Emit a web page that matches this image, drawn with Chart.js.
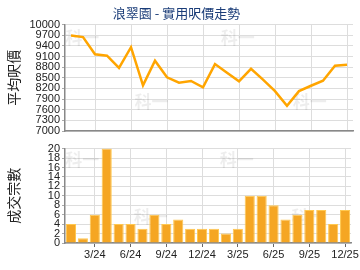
<!DOCTYPE html>
<html>
<head>
<meta charset="utf-8">
<script src="https://cdn.jsdelivr.net/npm/chart.js@4/dist/chart.umd.min.js"></script>
<style>
  body { margin: 0; background: #fff; }
  #wrap { position: relative; width: 360px; height: 270px; }
  canvas { position: absolute; left: 0; }
  #priceChart { top: 0; }
  #dealChart { top: 140px; }
</style>
</head>
<body>
<div id="wrap">
  <canvas id="priceChart" width="360" height="140"></canvas>
  <canvas id="dealChart" width="360" height="130"></canvas>
</div>
<script>
var months = ['1/24','2/24','3/24','4/24','5/24','6/24','7/24','8/24','9/24','10/24','11/24','12/24',
              '1/25','2/25','3/25','4/25','5/25','6/25','7/25','8/25','9/25','10/25','11/25','12/25'];
var avgPrice = [9695, 9648, 9162, 9124, 8781, 9362, 8286, 8981, 8514, 8362, 8410, 8229,
                8886, 8640, 8400, 8752, 8448, 8124, 7714, 8124, 8276, 8419, 8838, 8867];
var deals = [4, 1, 6, 20, 4, 4, 3, 6, 4, 5, 3, 3, 3, 2, 3, 10, 10, 8, 5, 6, 7, 7, 4, 7];
var priceTicks = [7000, 7300, 7600, 7900, 8200, 8500, 8800, 9100, 9400, 9700, 10000];
var dealTicks = [0, 2, 4, 6, 8, 10, 12, 14, 16, 18, 20];

var tickFont = { family: 'Liberation Sans', size: 11 };
var gridCol = '#dddddd';
var axisCol = '#888888';

function shown(i) { return i % 3 === 2; }

// faint "科一" marks behind the plot, like the source site's watermark
var watermark = {
  id: 'watermark',
  beforeDatasetsDraw: function(chart) {
    var a = chart.chartArea, ctx = chart.ctx;
    ctx.save();
    ctx.fillStyle = 'rgba(0,0,0,0.07)';
    ctx.font = 'bold 17px "Noto Sans CJK TC"';
    ctx.textBaseline = 'middle';
    ctx.textAlign = 'center';
    var w = a.right - a.left, h = a.bottom - a.top;
    [[0.06, 0.12], [0.6, 0.12], [0.3, 0.72], [0.85, 0.72]].forEach(function(p) {
      ctx.fillText('科一', a.left + p[0] * w, a.top + p[1] * h);
    });
    ctx.restore();
  }
};

function xScale(showLabels) {
  return {
    type: 'category',
    offset: true,
    grid: {
      offset: false,
      color: function(c) { return shown(c.index) ? gridCol : 'rgba(0,0,0,0)'; },
      tickLength: 4,
      drawTicks: showLabels,
      tickColor: function(c) { return shown(c.index) ? '#666' : 'rgba(0,0,0,0)'; }
    },
    border: { color: axisCol, width: 1.5 },
    ticks: {
      display: showLabels,
      autoSkip: false,
      maxRotation: 0,
      padding: 1,
      color: '#222',
      font: tickFont,
      callback: function(v, i) { return shown(i) ? months[i] : ''; }
    },
    afterFit: function(s) { s.height = showLabels ? 27 : 0; }
  };
}

function yScale(min, max, title, ticksArr) {
  return {
    min: min, max: max,
    afterBuildTicks: function(s) { s.ticks = ticksArr.map(function(v) { return { value: v }; }); },
    grid: { color: gridCol, tickLength: 3, tickColor: '#aaa' },
    border: { color: axisCol, width: 1.5 },
    ticks: {
      autoSkip: false, padding: 2, color: '#222', font: tickFont,
      callback: function(v) { return String(v); }
    },
    title: { display: true, text: title, color: '#222', font: { family: 'Noto Sans CJK TC', size: 14 }, padding: { top: 5, bottom: 0 } },
    afterFit: function(s) { s.width = 65; }
  };
}

new Chart(document.getElementById('priceChart').getContext('2d'), {
  type: 'line',
  data: {
    labels: months,
    datasets: [{
      data: avgPrice,
      borderColor: '#FFA500',
      borderWidth: 2.5,
      pointRadius: 0,
      tension: 0,
      fill: false
    }]
  },
  options: {
    responsive: false,
    animation: false,
    layout: { padding: { left: 0, right: 7, top: 0, bottom: 9 } },
    plugins: {
      legend: { display: false },
      tooltip: { enabled: false },
      title: {
        display: true,
        text: '浪翠園 - 實用呎價走勢',
        color: '#1a3c78',
        font: { family: 'Noto Sans CJK TC', size: 13, weight: 'normal' },
        padding: { top: 5, bottom: 4 }
      }
    },
    scales: {
      x: xScale(false),
      y: yScale(7000, 10000, '平均呎價', priceTicks)
    }
  },
  plugins: [watermark]
});

new Chart(document.getElementById('dealChart').getContext('2d'), {
  type: 'bar',
  data: {
    labels: months,
    datasets: [{
      data: deals,
      backgroundColor: function(c) {
        var bar = c.chart.getDatasetMeta(0).data[c.dataIndex];
        if (!bar || !bar.width) return '#F5A623';
        var ctx = c.chart.ctx;
        var g = ctx.createLinearGradient(bar.x - bar.width / 2, 0, bar.x + bar.width / 2, 0);
        g.addColorStop(0, '#F0A010');
        g.addColorStop(0.35, '#FFD066');
        g.addColorStop(0.6, '#F8B830');
        g.addColorStop(1, '#E89A00');
        return g;
      },
      borderColor: '#FFC850',
      borderWidth: 1,
      barPercentage: 0.85,
      categoryPercentage: 1
    }]
  },
  options: {
    responsive: false,
    animation: false,
    layout: { padding: { left: 0, right: 7, top: 7, bottom: 0 } },
    plugins: { legend: { display: false }, tooltip: { enabled: false } },
    scales: {
      x: xScale(true),
      y: yScale(0, 20, '成交宗數', dealTicks)
    }
  },
  plugins: [watermark]
});
</script>
</body>
</html>
